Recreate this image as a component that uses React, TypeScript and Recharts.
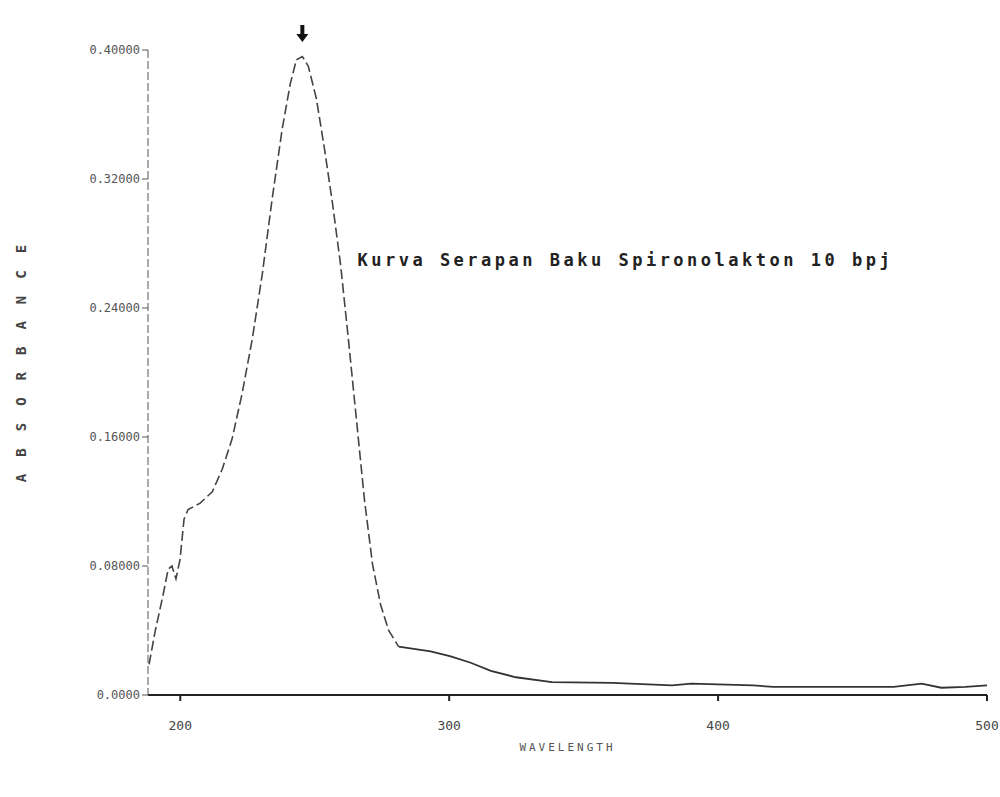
import { LineChart, Line, XAxis, YAxis, ReferenceDot } from "recharts";

// wavelength (nm) and absorbance
const wavelength = [
  188.4, 190.6, 193.6, 195.5, 196.9, 198.4, 199.9, 201.4, 202.9, 207.4, 211.9,
  215.6, 219.3, 223.0, 226.8, 230.5, 234.2, 237.9, 240.9, 243.2, 245.4, 247.6,
  250.6, 253.6, 256.6, 259.6, 262.5, 265.5, 268.5, 271.5, 274.5, 277.5, 281.2,
  293.1, 300.6, 308.0, 315.5, 324.8, 338.2, 360.6, 382.9, 390.0, 413.0, 420.5,
  465.3, 475.7, 483.0, 492.0, 500.0,
];
const absorbance = [
  0.019, 0.039, 0.062, 0.078, 0.08, 0.072, 0.084, 0.109, 0.115, 0.119, 0.126,
  0.14, 0.159, 0.187, 0.221, 0.261, 0.308, 0.351, 0.379, 0.394, 0.396, 0.39,
  0.37, 0.339, 0.305, 0.267, 0.221, 0.171, 0.121, 0.081, 0.056, 0.04, 0.03,
  0.027, 0.024, 0.02, 0.015, 0.011, 0.008, 0.0075, 0.006, 0.007, 0.006, 0.005,
  0.005, 0.007, 0.0045, 0.005, 0.006,
];
// last point of the steep (dashed-looking) part of the trace
const kneeIndex = 32;

const xTicks = [200, 300, 400, 500];
const yTicks = [0, 0.08, 0.16, 0.24, 0.32, 0.4];
const yTickLabels = ["0.0000", "0.08000", "0.16000", "0.24000", "0.32000", "0.40000"];

const peak = { x: 245.4, y: 0.41 };
const note = "Kurva Serapan Baku Spironolakton 10 bpj";

const data = wavelength.map((w, i) => ({
  w,
  steep: i <= kneeIndex ? absorbance[i] : null,
  tail: i >= kneeIndex ? absorbance[i] : null,
}));

const mono = "'DejaVu Sans Mono', monospace";

const ArrowShape = (props: any) => {
  const { cx, cy } = props;
  return (
    <path
      d={`M${cx - 2},${cy - 9} L${cx + 2},${cy - 9} L${cx + 2},${cy} L${cx + 6},${cy} L${cx},${cy + 8} L${cx - 6},${cy} L${cx - 2},${cy} Z`}
      fill="#111"
    />
  );
};

const NoteShape = (props: any) => {
  const { cx, cy } = props;
  return (
    <text
      x={cx}
      y={cy}
      fontFamily={mono}
      fontSize={17}
      fontWeight="bold"
      letterSpacing={3.5}
      fill="#222"
    >
      {note}
    </text>
  );
};

const YTitle = () => (
  <text
    x={26}
    y={355}
    transform="rotate(-90 26 355)"
    textAnchor="middle"
    fontFamily={mono}
    fontSize={14}
    fontWeight="bold"
    letterSpacing={17}
    fill="#444"
  >
    ABSORBANCE
  </text>
);

export default function App() {
  return (
    <div style={{ position: "absolute", left: 0, top: 0, background: "#fff" }}>
      <LineChart
        width={1000}
        height={797}
        data={data}
        margin={{ top: 50, right: 13, bottom: 42, left: 0 }}
      >
        <XAxis
          dataKey="w"
          type="number"
          domain={[188, 500]}
          ticks={xTicks}
          allowDataOverflow
          stroke="#222"
          strokeWidth={2}
          tickSize={6}
          tickMargin={20}
          height={60}
          tick={{ fontFamily: mono, fontSize: 13, fill: "#444" }}
          label={{
            value: "WAVELENGTH",
            position: "insideBottom",
            offset: 4,
            style: { fontFamily: mono, fontSize: 11, letterSpacing: 3, fill: "#555" },
          }}
        />
        <YAxis
          type="number"
          domain={[0, 0.4]}
          ticks={yTicks}
          width={148}
          stroke="#555"
          strokeDasharray="8 3"
          tickSize={6}
          tickMargin={2}
          tickFormatter={(v: number) => yTickLabels[yTicks.indexOf(v)]}
          tick={{ fontFamily: mono, fontSize: 12, fill: "#555" }}
          label={<YTitle />}
        />
        <Line
          dataKey="steep"
          stroke="#444"
          strokeWidth={1.6}
          strokeDasharray="10 4"
          dot={false}
          connectNulls={false}
          isAnimationActive={false}
        />
        <Line
          dataKey="tail"
          stroke="#333"
          strokeWidth={1.8}
          dot={false}
          connectNulls={false}
          isAnimationActive={false}
        />
        <ReferenceDot x={peak.x} y={peak.y} ifOverflow="visible" shape={ArrowShape} />
        <ReferenceDot x={265.9} y={0.266} ifOverflow="visible" shape={NoteShape} />
      </LineChart>
    </div>
  );
}
